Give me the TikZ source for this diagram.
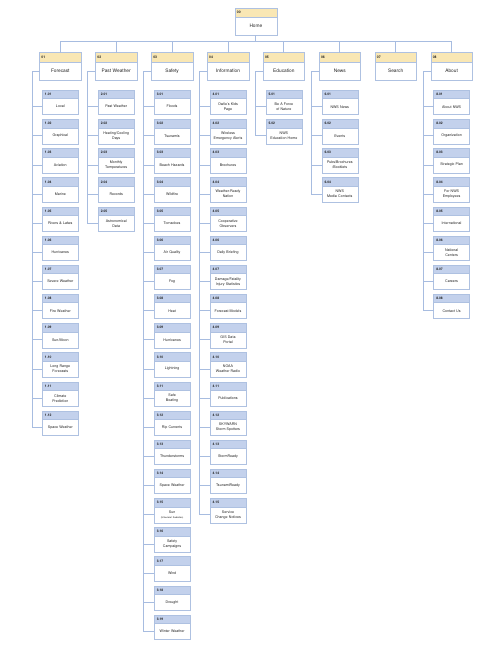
\documentclass[tikz,border=0pt]{standalone}
\usepackage{fontspec}
\setmainfont{TeX Gyre Heros}
\usepackage{tikz}
\usetikzlibrary{positioning}

\definecolor{headyellow}{HTML}{F9E7B4}
\definecolor{headblue}{HTML}{C3D1EC}
\definecolor{linkblue}{HTML}{A7BCE0}
\definecolor{boxline}{HTML}{AEC1E1}
\definecolor{ink}{HTML}{222222}

\tikzset{
  link/.style={draw=linkblue, line width=0.9pt},
  tophead/.style={draw=boxline, line width=0.6pt, fill=headyellow, anchor=north,
    minimum width=41.6pt, minimum height=9.3pt, inner xsep=2pt, inner ysep=0pt,
    text width=37.6pt, align=left, outer sep=0pt, text=ink,
    font=\fontsize{3.4}{4}\selectfont\bfseries},
  topbody/.style={draw=boxline, line width=0.6pt, fill=white,
    minimum width=41.6pt, minimum height=18.3pt, inner xsep=1pt, inner ysep=0pt,
    text width=39.6pt, align=center, outer sep=0pt, text=ink,
    font=\fontsize{4.8}{5.6}\selectfont},
  pagehead/.style={draw=boxline, line width=0.6pt, fill=headblue, anchor=north,
    minimum width=36pt, minimum height=8.4pt, inner xsep=2.7pt, inner ysep=0pt,
    text width=30.6pt, align=left, outer sep=0pt, text=ink,
    font=\fontsize{3.3}{4}\selectfont\bfseries},
  pagebody/.style={draw=boxline, line width=0.6pt, fill=white,
    minimum width=36pt, minimum height=16pt, inner xsep=1pt, inner ysep=0pt,
    text width=34pt, align=center, outer sep=0pt, text=ink,
    font=\fontsize{3.6}{5}\selectfont},
}

% spine, name, column x, row, number, label
\newcommand{\pagebox}[6]{%
  \node[pagehead] (#2h) at (#3,{90.3+29.15*(#4-1)}) {#5};
  \node[pagebody, below=0pt of #2h] (#2) {#6};
  \draw[link] (#1) |- (#2.west);
}

\begin{document}
\begin{tikzpicture}[x=1pt, y=-1pt]
\useasboundingbox (0,0) rectangle (500,649);
\fill[white] (0,0) rectangle (500,649);

% home
\node[tophead, minimum width=42pt, text width=38pt, minimum height=9.5pt] (homeh) at (255.9,8) {00};
\node[topbody, minimum width=42pt, text width=40pt, minimum height=17.5pt, below=0pt of homeh] (home) {Home};
\coordinate (bus) at (255.9,41.7);
\draw[link] (home.south) -- (bus);

% sections
\node[tophead] (t1h) at (60.3,52.7) {01};
\node[topbody, below=0pt of t1h] (t1) {Forecast};
\node[tophead] (t2h) at (116.2,52.7) {02};
\node[topbody, below=0pt of t2h] (t2) {Past Weather};
\node[tophead] (t3h) at (172.1,52.7) {03};
\node[topbody, below=0pt of t3h] (t3) {Safety};
\node[tophead] (t4h) at (228.0,52.7) {04};
\node[topbody, below=0pt of t4h] (t4) {Information};
\node[tophead] (t5h) at (283.9,52.7) {05};
\node[topbody, below=0pt of t5h] (t5) {Education};
\node[tophead] (t6h) at (339.8,52.7) {06};
\node[topbody, below=0pt of t6h] (t6) {News};
\node[tophead] (t7h) at (395.7,52.7) {07};
\node[topbody, below=0pt of t7h] (t7) {Search};
\node[tophead] (t8h) at (451.6,52.7) {08};
\node[topbody, below=0pt of t8h] (t8) {About};

\draw[link] (bus) -| (t1h.north);
\draw[link] (bus) -| (t2h.north);
\draw[link] (bus) -| (t3h.north);
\draw[link] (bus) -| (t4h.north);
\draw[link] (bus) -| (t5h.north);
\draw[link] (bus) -| (t6h.north);
\draw[link] (bus) -| (t7h.north);
\draw[link] (bus) -| (t8h.north);

% spines
\coordinate (s1) at ([xshift=-7.5pt]t1.west);
\coordinate (s2) at ([xshift=-7.5pt]t2.west);
\coordinate (s3) at ([xshift=-7.5pt]t3.west);
\coordinate (s4) at ([xshift=-7.5pt]t4.west);
\coordinate (s5) at ([xshift=-7.5pt]t5.west);
\coordinate (s6) at ([xshift=-7.5pt]t6.west);
\coordinate (s8) at ([xshift=-7.5pt]t8.west);
\draw[link] (t1.west) -- (s1);
\draw[link] (t2.west) -- (s2);
\draw[link] (t3.west) -- (s3);
\draw[link] (t4.west) -- (s4);
\draw[link] (t5.west) -- (s5);
\draw[link] (t6.west) -- (s6);
\draw[link] (t8.west) -- (s8);

% forecast
\pagebox{s1}{local}{60.3}{1}{1.01}{Local}
\pagebox{s1}{graphical}{60.3}{2}{1.02}{Graphical}
\pagebox{s1}{aviation}{60.3}{3}{1.03}{Aviation}
\pagebox{s1}{marine}{60.3}{4}{1.04}{Marine}
\pagebox{s1}{rivers}{60.3}{5}{1.05}{Rivers \& Lakes}
\pagebox{s1}{hurricanesf}{60.3}{6}{1.06}{Hurricanes}
\pagebox{s1}{severe}{60.3}{7}{1.07}{Severe Weather}
\pagebox{s1}{fire}{60.3}{8}{1.08}{Fire Weather}
\pagebox{s1}{sunmoon}{60.3}{9}{1.09}{Sun/Moon}
\pagebox{s1}{longrange}{60.3}{10}{1.10}{Long Range\\Forecasts}
\pagebox{s1}{climate}{60.3}{11}{1.11}{Climate\\Prediction}
\pagebox{s1}{spacef}{60.3}{12}{1.12}{Space Weather}

% past weather
\pagebox{s2}{pastwx}{116.2}{1}{2.01}{Past Weather}
\pagebox{s2}{heating}{116.2}{2}{2.02}{Heating/Cooling\\Days}
\pagebox{s2}{monthly}{116.2}{3}{2.03}{Monthly\\Temperatures}
\pagebox{s2}{records}{116.2}{4}{2.04}{Records}
\pagebox{s2}{astro}{116.2}{5}{2.05}{Astronomical\\Data}

% safety
\pagebox{s3}{floods}{172.1}{1}{3.01}{Floods}
\pagebox{s3}{tsunamis}{172.1}{2}{3.02}{Tsunamis}
\pagebox{s3}{beach}{172.1}{3}{3.03}{Beach Hazards}
\pagebox{s3}{wildfire}{172.1}{4}{3.04}{Wildfire}
\pagebox{s3}{tornadoes}{172.1}{5}{3.05}{Tornadoes}
\pagebox{s3}{air}{172.1}{6}{3.06}{Air Quality}
\pagebox{s3}{fog}{172.1}{7}{3.07}{Fog}
\pagebox{s3}{heat}{172.1}{8}{3.08}{Heat}
\pagebox{s3}{hurricaness}{172.1}{9}{3.09}{Hurricanes}
\pagebox{s3}{lightning}{172.1}{10}{3.10}{Lightning}
\pagebox{s3}{boating}{172.1}{11}{3.11}{Safe\\Boating}
\pagebox{s3}{rip}{172.1}{12}{3.12}{Rip Currents}
\pagebox{s3}{thunder}{172.1}{13}{3.13}{Thunderstorms}
\pagebox{s3}{spaces}{172.1}{14}{3.14}{Space Weather}
\pagebox{s3}{sun}{172.1}{15}{3.15}{Sun\\{\fontsize{2.3}{3}\selectfont (Ultraviolet Radiation)}}
\pagebox{s3}{campaigns}{172.1}{16}{3.16}{Safety\\Campaigns}
\pagebox{s3}{wind}{172.1}{17}{3.17}{Wind}
\pagebox{s3}{drought}{172.1}{18}{3.18}{Drought}
\pagebox{s3}{winter}{172.1}{19}{3.19}{Winter Weather}

% information
\pagebox{s4}{owlie}{228.0}{1}{4.01}{Owlie's Kids\\Page}
\pagebox{s4}{wea}{228.0}{2}{4.02}{Wireless\\Emergency Alerts}
\pagebox{s4}{brochures}{228.0}{3}{4.03}{Brochures}
\pagebox{s4}{wrn}{228.0}{4}{4.04}{Weather-Ready\\Nation}
\pagebox{s4}{coop}{228.0}{5}{4.05}{Cooperative\\Observers}
\pagebox{s4}{briefing}{228.0}{6}{4.06}{Daily Briefing}
\pagebox{s4}{damage}{228.0}{7}{4.07}{Damage/Fatality\\Injury Statistics}
\pagebox{s4}{models}{228.0}{8}{4.08}{Forecast Models}
\pagebox{s4}{gis}{228.0}{9}{4.09}{GIS Data\\Portal}
\pagebox{s4}{radio}{228.0}{10}{4.10}{NOAA\\Weather Radio}
\pagebox{s4}{pubs}{228.0}{11}{4.11}{Publications}
\pagebox{s4}{skywarn}{228.0}{12}{4.12}{SKYWARN\\Storm Spotters}
\pagebox{s4}{stormready}{228.0}{13}{4.13}{StormReady}
\pagebox{s4}{tsunamiready}{228.0}{14}{4.14}{TsunamiReady}
\pagebox{s4}{notices}{228.0}{15}{4.15}{Service\\Change Notices}

% education
\pagebox{s5}{force}{283.9}{1}{5.01}{Be A Force\\of Nature}
\pagebox{s5}{eduhome}{283.9}{2}{5.02}{NWS\\Education Home}

% news
\pagebox{s6}{nwsnews}{339.8}{1}{6.01}{NWS News}
\pagebox{s6}{events}{339.8}{2}{6.02}{Events}
\pagebox{s6}{booklets}{339.8}{3}{6.03}{Pubs/Brochures\\/Booklets}
\pagebox{s6}{media}{339.8}{4}{6.04}{NWS\\Media Contacts}

% about
\pagebox{s8}{aboutnws}{451.6}{1}{8.01}{About NWS}
\pagebox{s8}{org}{451.6}{2}{8.02}{Organization}
\pagebox{s8}{plan}{451.6}{3}{8.03}{Strategic Plan}
\pagebox{s8}{employees}{451.6}{4}{8.04}{For NWS\\Employees}
\pagebox{s8}{intl}{451.6}{5}{8.05}{International}
\pagebox{s8}{centers}{451.6}{6}{8.06}{National\\Centers}
\pagebox{s8}{careers}{451.6}{7}{8.07}{Careers}
\pagebox{s8}{contact}{451.6}{8}{8.08}{Contact Us}
\end{tikzpicture}
\end{document}
